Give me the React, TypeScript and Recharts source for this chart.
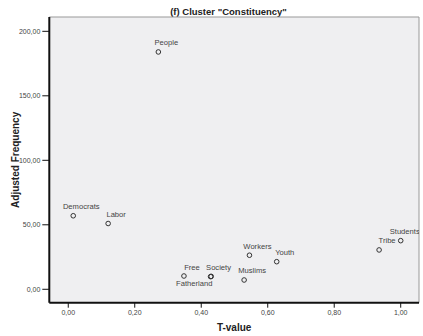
import React from 'react';
import { ScatterChart, Scatter, XAxis, YAxis, CartesianGrid, ReferenceLine } from 'recharts';

const names = ['People', 'Democrats', 'Labor', 'Free', 'Fatherland', 'Society', 'Muslims', 'Workers', 'Youth', 'Tribe', 'Students'];
const tValues = [0.271, 0.015, 0.12, 0.348, 0.43, 0.428, 0.529, 0.545, 0.627, 0.935, 1.0];
const freqs = [184, 57, 51, 10.3, 10, 9.8, 7.2, 26.4, 21.4, 30.5, 37.7];
const xTicks = [0, 0.2, 0.4, 0.6, 0.8, 1.0];
const yTicks = [0, 50, 100, 150, 200];

const data = names.map((name, i) => ({ name, t: tValues[i], f: freqs[i] }));

const X_MIN = -0.057;
const X_MAX = 1.055;
const Y_MIN = -10.4;
const Y_MAX = 211.1;

const FONT = '"Liberation Sans", Arial, sans-serif';

const fmt = (v: number) => v.toFixed(2).replace('.', ',');

const PointShape = (props: any) => {
  const { cx, cy, payload } = props;
  if (cx == null || cy == null) return null;
  const below = payload.name === 'Fatherland';
  const edge = payload.name === 'Students';
  const lx = below ? cx - 17 : edge ? cx + 4 : cx + 8;
  const ly = below ? cy + 10 : cy - 6.5;
  return (
    <g>
      <circle cx={cx} cy={cy} r={2.3} fill="none" stroke="#333" strokeWidth={1} />
      <text x={lx} y={ly} textAnchor="middle" fontSize={7.6} fontFamily={FONT} fill="#444">
        {payload.name}
      </text>
    </g>
  );
};

export default function App() {
  return (
    <div style={{ position: 'absolute', left: 0, top: 0, background: '#fff' }}>
      <ScatterChart width={423} height={336} margin={{ top: 17, right: 4, bottom: 0, left: 0 }}>
        <CartesianGrid horizontal={false} vertical={false} fill="#EFEFF1" />
        <XAxis
          type="number"
          dataKey="t"
          domain={[X_MIN, X_MAX]}
          ticks={xTicks}
          tickFormatter={fmt}
          height={33.3}
          tickSize={5}
          stroke="#111"
          axisLine={{ stroke: '#111', strokeWidth: 2 }}
          tickLine={{ stroke: '#111', strokeWidth: 1 }}
          tick={{ fontSize: 7, fontFamily: FONT, fill: '#444' }}
          allowDataOverflow
          label={{ value: 'T-value', position: 'insideBottom', offset: 5, style: { fontSize: 10, fontWeight: 'bold', fontFamily: FONT, fill: '#222' } }}
        />
        <YAxis
          type="number"
          dataKey="f"
          domain={[Y_MIN, Y_MAX]}
          ticks={yTicks}
          tickFormatter={fmt}
          width={49.3}
          tickSize={7}
          stroke="#111"
          axisLine={{ stroke: '#111', strokeWidth: 2 }}
          tickLine={{ stroke: '#111', strokeWidth: 1 }}
          tick={{ fontSize: 7, fontFamily: FONT, fill: '#444' }}
          allowDataOverflow
          label={{ value: 'Adjusted Frequency', angle: -90, position: 'insideLeft', offset: 15, style: { textAnchor: 'middle', fontSize: 10, fontWeight: 'bold', fontFamily: FONT, fill: '#222' } }}
        />
        <ReferenceLine y={Y_MAX} stroke="#999" strokeWidth={1} />
        <Scatter data={data} isAnimationActive={false} shape={PointShape} />
        <ReferenceLine x={X_MAX} stroke="#999" strokeWidth={1} />
        <text x={228.5} y={15} textAnchor="middle" fontSize={9.5} fontWeight="bold" fontFamily={FONT} fill="#222">
          (f) Cluster "Constituency"
        </text>
      </ScatterChart>
    </div>
  );
}
